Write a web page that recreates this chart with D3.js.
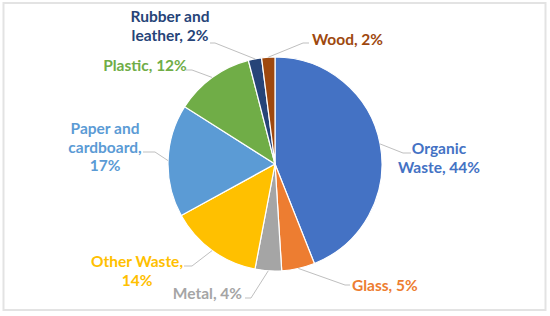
<!DOCTYPE html>
<html>
<head>
<meta charset="utf-8">
<script src="https://cdn.jsdelivr.net/npm/d3@7"></script>
<style>
  body { margin: 0; background: #fff; }
  text { font-family: Lato, "Open Sans", sans-serif; font-weight: bold; }
</style>
</head>
<body>
<div id="chart"></div>
<script>
// Waste composition (% share), clockwise from 12 o'clock
const categories = ["Organic Waste", "Glass", "Metal", "Other Waste",
    "Paper and cardboard", "Plastic", "Rubber and leather", "Wood"];
const shares = [44, 5, 4, 14, 17, 12, 2, 2];
const labelLines = [
    ["Organic", "Waste, 44%"],
    ["Glass, 5%"],
    ["Metal, 4%"],
    ["Other Waste,", "14%"],
    ["Paper and", "cardboard,", "17%"],
    ["Plastic, 12%"],
    ["Rubber and", "leather, 2%"],
    ["Wood, 2%"]
];
const colors = ["#4472C4", "#ED7D31", "#A5A5A5", "#FFC000",
    "#5B9BD5", "#70AD47", "#264478", "#9E480E"];

const width = 550;
const height = 316;
const cx = 275, cy = 164, radius = 107;

// label layout: text anchor point, anchor, elbow + end of leader line
const layout = [
    { x: 439, y: 148, anchor: "middle", elbow: [403, 153], end: [411, 153] },
    { x: 352, y: 285, anchor: "start", elbow: [345, 285], end: [350, 285] },
    { x: 242, y: 293, anchor: "end", elbow: [251, 298], end: [245, 298] },
    { x: 137, y: 261, anchor: "middle", elbow: [192, 266], end: [184, 266] },
    { x: 105, y: 128, anchor: "middle", elbow: [155, 152], end: [143, 152] },
    { x: 145, y: 65, anchor: "middle", elbow: [192, 70], end: [186, 70] },
    { x: 170, y: 16, anchor: "middle", elbow: [215, 43], end: [210, 43] },
    { x: 312, y: 39, anchor: "start", elbow: [303, 43], end: [309, 43] }
];

const data = categories.map((c, i) => ({ name: c, value: shares[i], i: i }));

const svg = d3.select("#chart")
    .append("svg")
    .attr("width", width)
    .attr("height", height);

// chart frame
svg.append("rect")
    .attr("x", 3.5)
    .attr("y", 3)
    .attr("width", 542)
    .attr("height", 307)
    .attr("fill", "#fff")
    .attr("stroke", "#e3e3e3")
    .attr("stroke-width", 2);

const pie = d3.pie()
    .value(d => d.value)
    .sort(null);

const arcs = pie(data);

const arc = d3.arc()
    .innerRadius(0)
    .outerRadius(radius);

const edgeArc = d3.arc()
    .innerRadius(radius)
    .outerRadius(radius);

const g = svg.append("g")
    .attr("transform", `translate(${cx}, ${cy})`);

g.selectAll("path.slice")
    .data(arcs)
    .enter()
    .append("path")
    .attr("class", "slice")
    .attr("d", arc)
    .attr("fill", d => colors[d.data.i])
    .attr("stroke", "#fff")
    .attr("stroke-width", 1.2);

// leader lines
arcs.forEach(d => {
    const p = edgeArc.centroid(d);
    const L = layout[d.data.i];
    const pts = [[p[0] + cx, p[1] + cy], L.elbow, L.end];
    svg.append("path")
        .attr("d", d3.line()(pts))
        .attr("fill", "none")
        .attr("stroke", "#bfbfbf")
        .attr("stroke-width", 1);
});

// labels
data.forEach(d => {
    const L = layout[d.i];
    const t = svg.append("text")
        .attr("x", L.x)
        .attr("y", L.y)
        .attr("text-anchor", L.anchor)
        .attr("dominant-baseline", "central")
        .attr("font-size", 15.5)
        .attr("fill", colors[d.i]);
    labelLines[d.i].forEach((line, k) => {
        t.append("tspan")
            .attr("x", L.x)
            .attr("dy", k === 0 ? 0 : 18.7)
            .text(line);
    });
});
</script>
</body>
</html>
